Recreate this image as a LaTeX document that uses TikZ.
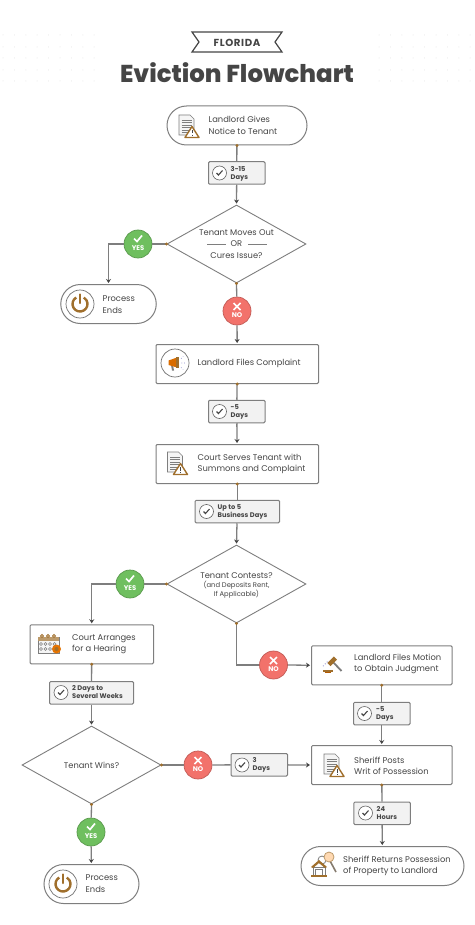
\documentclass[tikz,border=0pt]{standalone}
\usepackage{fontspec}
\setmainfont{Poppins}
\newfontfamily\heavyfont{Poppins ExtraBold}
\usetikzlibrary{arrows.meta,shapes.geometric}
\definecolor{ink}{HTML}{454545}
\definecolor{rule}{HTML}{7E7E7E}
\definecolor{umber}{HTML}{A06F2C}
\definecolor{leaf}{HTML}{6FBF5F}
\definecolor{coral}{HTML}{F2726B}
\tikzset{
  flow/.style={line width=1.3pt, rule},
  arr/.style={flow, -{Stealth[length=4pt,width=5pt,color=ink]}, shorten >=1pt},
  tap/.style={fill=umber},
  box/.style={draw=rule, line width=1pt, rounded corners=1.2pt, fill=white, minimum height=39pt, inner sep=0pt},
  pill/.style={box, rounded corners=19.5pt},
  days/.style={draw=rule, line width=1pt, rounded corners=1.2pt, fill=black!5, minimum height=22.5pt, inner sep=0pt},
  choice/.style={draw=rule, line width=.9pt, diamond, aspect=1.78, minimum width=139pt, minimum height=78pt, inner sep=0pt, fill=white, text=ink, align=center, font=\fontsize{8.3}{11.3}\selectfont},
  lbl/.style={anchor=west, align=left, inner sep=0pt, text=ink, font=\fontsize{8.35}{11.3}\selectfont},
  dayslbl/.style={anchor=west, align=left, inner sep=0pt, text=ink, font=\fontsize{6.7}{8}\selectfont\bfseries},
  yesmark/.style={circle, minimum size=28pt, inner sep=0pt, fill=leaf, draw=leaf!80!black, line width=.7pt,
    path picture={\draw[white, line width=1.7pt] (path picture bounding box.center) ++(-4pt,5.5pt) -- ++(3pt,-3pt) -- ++(5pt,6pt);},
    label={[white, yshift=-3.8pt, font=\fontsize{6.8}{7}\selectfont\bfseries]center:YES}},
  nomark/.style={circle, minimum size=28pt, inner sep=0pt, fill=coral, draw=coral!80!black, line width=.7pt,
    path picture={\draw[white, line width=1.7pt] (path picture bounding box.center) ++(-3.5pt,8pt) -- ++(7pt,-7pt) ++(-7pt,0pt) -- ++(7pt,7pt);},
    label={[white, yshift=-4.2pt, font=\fontsize{6.8}{7}\selectfont\bfseries]center:NO}},
  pics/tick/.style={code={
    \draw[rule!80!black, line width=.6pt, fill=white] (0,0) circle (7pt);
    \draw[ink, line width=1.1pt] (-3,0) -- (-1,2) -- (3,-2.5);
  }},
  pics/docwarn/.style={code={
    \draw[rule, line width=.6pt, fill=black!4] (-7.5,-10) -- (3.5,-10) -- (7.5,-6) -- (7.5,10) -- (-7.5,10) -- cycle;
    \foreach \yy in {-5,-2.5,0,2.5,5,7.5} \draw[rule, line width=.8pt] (-5,\yy) -- (5,\yy);
    \draw[umber, line width=1.4pt, fill=white, line join=round] (5.5,1.5) -- (12.5,12.5) -- (-1.5,12.5) -- cycle;
    \draw[ink, line width=.8pt] (5.5,5) -- (5.5,8.5) (5.5,9.8) -- (5.5,10.8);
  }},
  pics/powericon/.style={code={
    \draw[rule!90!black, line width=.7pt, fill=white] (0,0) circle (14pt);
    \draw[umber, line width=2.4pt] (120:7.5pt) arc[start angle=120, end angle=420, radius=7.5pt];
    \draw[umber, line width=2.4pt, line cap=round] (0,-9.5) -- (0,-1);
  }},
  pics/hornicon/.style={code={
    \draw[rule!90!black, line width=.7pt, fill=white] (0,0) circle (14pt);
    \fill[rule] (-4,2) -- (-2,2) -- (-1,7.5) -- (-3,7.5) -- cycle;
    \fill[orange!85!black] (-6.5,-2.5) -- (2,-5.5) -- (2,4.5) -- (-6.5,2) -- cycle;
    \fill[umber] (1,-6) rectangle (3.5,5);
    \draw[blue!40!gray, line width=.7pt, dotted] (6,-4.5) -- (8,-6.5) (6.5,0) -- (9.5,0) (6,4.5) -- (8,6.5);
  }},
  pics/calicon/.style={code={
    \draw[rule, line width=.7pt, fill=black!4] (-10,-7) rectangle (11,9.5);
    \fill[umber!70] (-10,-7) rectangle (11,-3);
    \foreach \xx in {-6,0,6} \draw[umber, line width=.8pt, fill=white] (\xx,-8) circle (1.5pt);
    \foreach \xx in {-7,-2.5,2,6.5} \foreach \yy in {0,5} \draw[rule, line width=.5pt] (\xx,\yy) circle (1.5pt);
    \fill[orange!90!black] (8.5,5) circle (4.5pt);
    \fill[umber] (8.5,5) circle (2pt);
  }},
  pics/gavelicon/.style={code={
    \draw[rule, line width=1.8pt] (1,-1) -- (9.5,8);
    \draw[umber, line width=4.5pt] (-3,1.5) -- (3.5,-5);
    \fill[umber] (-9,6.5) rectangle (1,8.5);
    \fill[orange!70!black] (-7,9) rectangle (-1,10);
    \draw[blue!40!gray, line width=.7pt, dotted] (-9,3) -- (-4,-2);
  }},
  pics/keyhouse/.style={code={
    \draw[rule, line width=.8pt, fill=white] (3,-8) circle (4pt);
    \draw[rule!80!umber, line width=1.6pt] (10,-9) -- (17,4);
    \draw[umber!70, line width=.8pt, fill=orange!30] (10,-11) circle (5pt);
    \draw[rule, line width=.8pt, fill=white] (-6,-1) rectangle (6,7);
    \draw[rule, line width=.6pt] (-3.5,1) rectangle (3.5,7);
    \fill[umber] (-8,-1) -- (0,-8) -- (8,-1) -- (6,0) -- (0,-5) -- (-6,0) -- cycle;
    \fill[umber] (-8,7) rectangle (8,9);
  }},
}
\begin{document}
\begin{tikzpicture}[x=1pt,y=-1pt]
  \useasboundingbox (0,0) rectangle (474,925);
  \foreach \gx in {0,...,8} \foreach \gy in {35,47,58,70,81} {
    \fill[black!12] (3+11.4*\gx,\gy) circle (.5pt);
    \fill[black!12] (379+11.4*\gx,\gy) circle (.5pt);
  }
  \draw[ink, line width=1.2pt] (192,32) -- (282,32) -- (275,42) -- (282,52) -- (192,52) -- (199,42) -- cycle;
  \node[text=ink, font=\fontsize{10.2}{12}\selectfont\bfseries\addfontfeature{LetterSpace=6}] (state) at (237,42.5) {FLORIDA};
  \node[text=ink, font=\fontsize{24.4}{28}\selectfont\heavyfont] (title) at (237,73) {Eviction Flowchart};

  \node[pill, minimum width=140pt] (notice) at (237,125.5) {};
  \node[days, minimum width=56.5pt] (wait1) at (236.75,173) {};
  \node[choice] (moves) at (236.5,244) {Tenant Moves Out\\OR\\Cures Issue?};
  \node[yesmark] (yes1) at (138,244) {};
  \node[pill, minimum width=95.5pt] (end1) at (108.5,304) {};
  \node[nomark] (no1) at (237,311) {};
  \node[box, minimum width=162.5pt] (complaint) at (237.25,364) {};
  \node[days, minimum width=56.5pt] (wait2) at (236.75,411.5) {};
  \node[box, minimum width=162.5pt] (serve) at (237.25,464) {};
  \node[days, minimum width=84.5pt] (wait3) at (237.25,511.5) {};
  \node[choice] (contest) at (236.5,584) {};
  \node[text=ink, inner sep=0pt, font=\fontsize{8.3}{10}\selectfont] (contesttxt) at (236.5,575.5) {Tenant Contests?};
  \node[text=ink, inner sep=0pt, align=center, font=\fontsize{6.8}{8}\selectfont] (contestsub) at (236.5,589.5) {(and Deposits Rent,\\If Applicable)};
  \node[yesmark] (yes2) at (130,584) {};
  \node[box, minimum width=123.5pt] (hearing) at (91.75,644.25) {};
  \node[days, minimum width=84pt] (wait4) at (91.5,692.75) {};
  \node[choice] (wins) at (91.5,765) {Tenant Wins?};
  \node[yesmark] (yes3) at (91,832) {};
  \node[pill, minimum width=95pt] (end2) at (91.5,884) {};
  \node[nomark] (no2) at (273.5,665) {};
  \node[box, minimum width=140.5pt] (motion) at (381.75,665.25) {};
  \node[days, minimum width=56.5pt] (wait5) at (381.75,713.5) {};
  \node[box, minimum width=140.5pt] (posts) at (381.75,765) {};
  \node[nomark] (no3) at (198,765) {};
  \node[days, minimum width=56.5pt] (wait6) at (259.25,764.75) {};
  \node[days, minimum width=56.5pt] (wait7) at (382,813.25) {};
  \node[pill, minimum width=163pt] (returns) at (382.5,866) {};

  \draw[flow] (notice) -- (wait1);
  \draw[arr] (wait1) -- (moves.north);
  \draw[flow] (moves.west) -- (yes1);
  \draw[arr] (yes1.west) -| (end1.north);
  \draw[flow] (moves.south) -- (no1);
  \draw[arr] (no1) -- (complaint);
  \draw[flow] (complaint) -- (wait2);
  \draw[arr] (wait2) -- (serve);
  \draw[flow] (serve) -- (wait3);
  \draw[arr] (wait3) -- (contest.north);
  \draw[flow] (contest.west) -- (yes2);
  \draw[arr] (yes2.west) -| (hearing.north);
  \draw[flow] (hearing) -- (wait4);
  \draw[arr] (wait4) -- (wins.north);
  \draw[flow] (contest.south) |- (no2.west);
  \draw[arr] (no2.east) -- (motion.west);
  \draw[flow] (motion) -- (wait5);
  \draw[arr] (wait5) -- (posts);
  \draw[flow] (wins.south) -- (yes3);
  \draw[arr] (yes3) -- (end2);
  \draw[flow] (wins.east) -- (no3);
  \draw[flow] (no3) -- (wait6);
  \draw[arr] (wait6) -- (posts.west);
  \draw[flow] (posts) -- (wait7);
  \draw[arr] (wait7) -- (returns);

  \foreach \tp in {notice.south,moves.west,moves.south,complaint.south,serve.south,contest.west,contest.south,hearing.south,wins.south,wins.east,motion.south,posts.south}
    \fill[tap] (\tp) circle (1.6pt);

  \draw[rule, line width=.8pt] (207,244) -- (226,244) (248,244) -- (267,244);

  \node[lbl] (noticetxt) at (208.5,125.5) {Landlord Gives\\Notice to Tenant};
  \node[lbl] (end1txt) at (102.5,304.5) {Process\\Ends};
  \node[lbl] (complainttxt) at (197.5,363.5) {Landlord Files Complaint};
  \node[lbl] (servetxt) at (197.5,464) {Court Serves Tenant with\\Summons and Complaint};
  \node[lbl] (hearingtxt) at (72,644.5) {Court Arranges\\for a Hearing};
  \node[lbl] (end2txt) at (85.5,883.5) {Process\\Ends};
  \node[lbl] (motiontxt) at (354,664) {Landlord Files Motion\\to Obtain Judgment};
  \node[lbl] (poststxt) at (354,765.5) {Sheriff Posts\\Writ of Possession};
  \node[lbl] (returnstxt) at (343,866) {Sheriff Returns Possession\\of Property to Landlord};

  \node[dayslbl] (wait1txt) at (230.5,173.5) {3-15\\Days};
  \node[dayslbl] (wait2txt) at (230.5,411.5) {-5\\Days};
  \node[dayslbl] (wait3txt) at (217.5,511.5) {Up to 5\\Business Days};
  \node[dayslbl] (wait4txt) at (72,692.5) {2 Days to\\Several Weeks};
  \node[dayslbl] (wait5txt) at (376,713.5) {-5\\Days};
  \node[dayslbl] (wait6txt) at (252.5,765) {3\\Days};
  \node[dayslbl] (wait7txt) at (376.5,813.5) {24\\Hours};

  \pic at (219.5,173) {tick};
  \pic at (219.5,411.5) {tick};
  \pic at (206.5,511.5) {tick};
  \pic at (61,692.5) {tick};
  \pic at (364.5,713.5) {tick};
  \pic at (242,765) {tick};
  \pic at (365.5,813) {tick};

  \pic at (186.5,125) {docwarn};
  \pic at (175,462) {docwarn};
  \pic at (331.5,764) {docwarn};
  \pic at (80,304) {powericon};
  \pic at (63,884) {powericon};
  \pic at (175,363) {hornicon};
  \pic at (48,644) {calicon};
  \pic at (332,663) {gavelicon};
  \pic at (319,868) {keyhouse};
\end{tikzpicture}
\end{document}
